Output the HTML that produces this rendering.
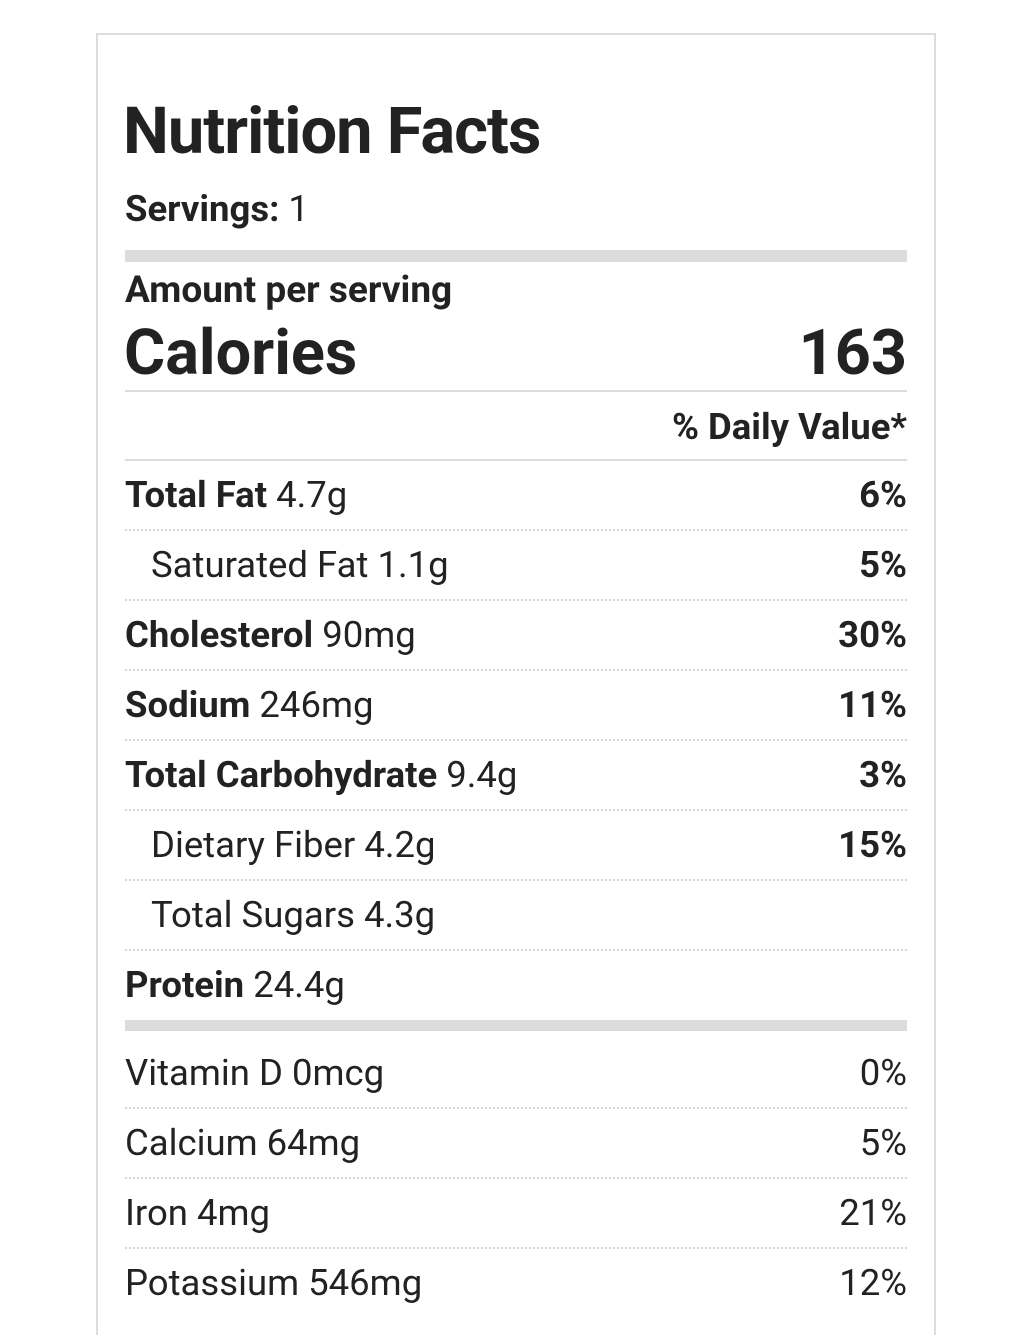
<!DOCTYPE html>
<html><head><meta charset="utf-8"><style>
body{margin:0;width:1026px;height:1306px;background:#fff;overflow:hidden;position:relative;font-family:"Roboto","Liberation Sans",sans-serif;color:#222}
.box{position:absolute;left:96px;top:33px;width:836px;height:1300px;border:2px solid #ddd;border-bottom:none}
.t{position:absolute;white-space:nowrap;line-height:40px;height:40px;font-size:36.5px}
.r{right:119px;text-align:right}
b{font-weight:bold}
.dot{position:absolute;left:125px;width:782px;height:0;border-top:2px dotted #d4d4d4}
.bar{position:absolute;left:125px;width:782px;background:#dcdcdc}
</style></head><body>
<div class="box"></div>
<div class="t" style="left:123px;top:96px;height:70px;line-height:70px;font-size:65px;font-weight:bold;letter-spacing:-1px">Nutrition Facts</div>
<div class="t" style="left:125px;top:189px"><b>Servings:</b> 1</div>
<div class="bar" style="top:250px;height:12px"></div>
<div class="t" style="left:125px;top:271px;font-weight:bold;font-size:37px">Amount per serving</div>
<div class="t" style="left:124px;top:324px;height:60px;line-height:60px;font-size:63px;font-weight:bold">Calories</div>
<div class="t r" style="top:324px;height:60px;line-height:60px;font-size:63px;font-weight:bold">163</div>
<div class="bar" style="top:390px;height:2px"></div>
<div class="t r" style="top:407px"><b>% Daily Value*</b></div>
<div class="bar" style="top:459px;height:2px"></div>

<div class="t" style="left:125px;top:475px"><b>Total Fat</b> 4.7g</div><div class="t r" style="top:475px"><b>6%</b></div>
<div class="dot" style="top:529px"></div>
<div class="t" style="left:151px;top:545px">Saturated Fat 1.1g</div><div class="t r" style="top:545px"><b>5%</b></div>
<div class="dot" style="top:599px"></div>
<div class="t" style="left:125px;top:615px"><b>Cholesterol</b> 90mg</div><div class="t r" style="top:615px"><b>30%</b></div>
<div class="dot" style="top:669px"></div>
<div class="t" style="left:125px;top:685px"><b>Sodium</b> 246mg</div><div class="t r" style="top:685px"><b>11%</b></div>
<div class="dot" style="top:739px"></div>
<div class="t" style="left:125px;top:755px"><b>Total Carbohydrate</b> 9.4g</div><div class="t r" style="top:755px"><b>3%</b></div>
<div class="dot" style="top:809px"></div>
<div class="t" style="left:151px;top:825px">Dietary Fiber 4.2g</div><div class="t r" style="top:825px"><b>15%</b></div>
<div class="dot" style="top:879px"></div>
<div class="t" style="left:151px;top:895px">Total Sugars 4.3g</div>
<div class="dot" style="top:949px"></div>
<div class="t" style="left:125px;top:965px"><b>Protein</b> 24.4g</div>
<div class="bar" style="top:1020px;height:11px"></div>
<div class="t" style="left:125px;top:1053px">Vitamin D 0mcg</div><div class="t r" style="top:1053px">0%</div>
<div class="dot" style="top:1107px"></div>
<div class="t" style="left:125px;top:1123px">Calcium 64mg</div><div class="t r" style="top:1123px">5%</div>
<div class="dot" style="top:1177px"></div>
<div class="t" style="left:125px;top:1193px">Iron 4mg</div><div class="t r" style="top:1193px">21%</div>
<div class="dot" style="top:1247px"></div>
<div class="t" style="left:125px;top:1263px">Potassium 546mg</div><div class="t r" style="top:1263px">12%</div>
</body></html>
